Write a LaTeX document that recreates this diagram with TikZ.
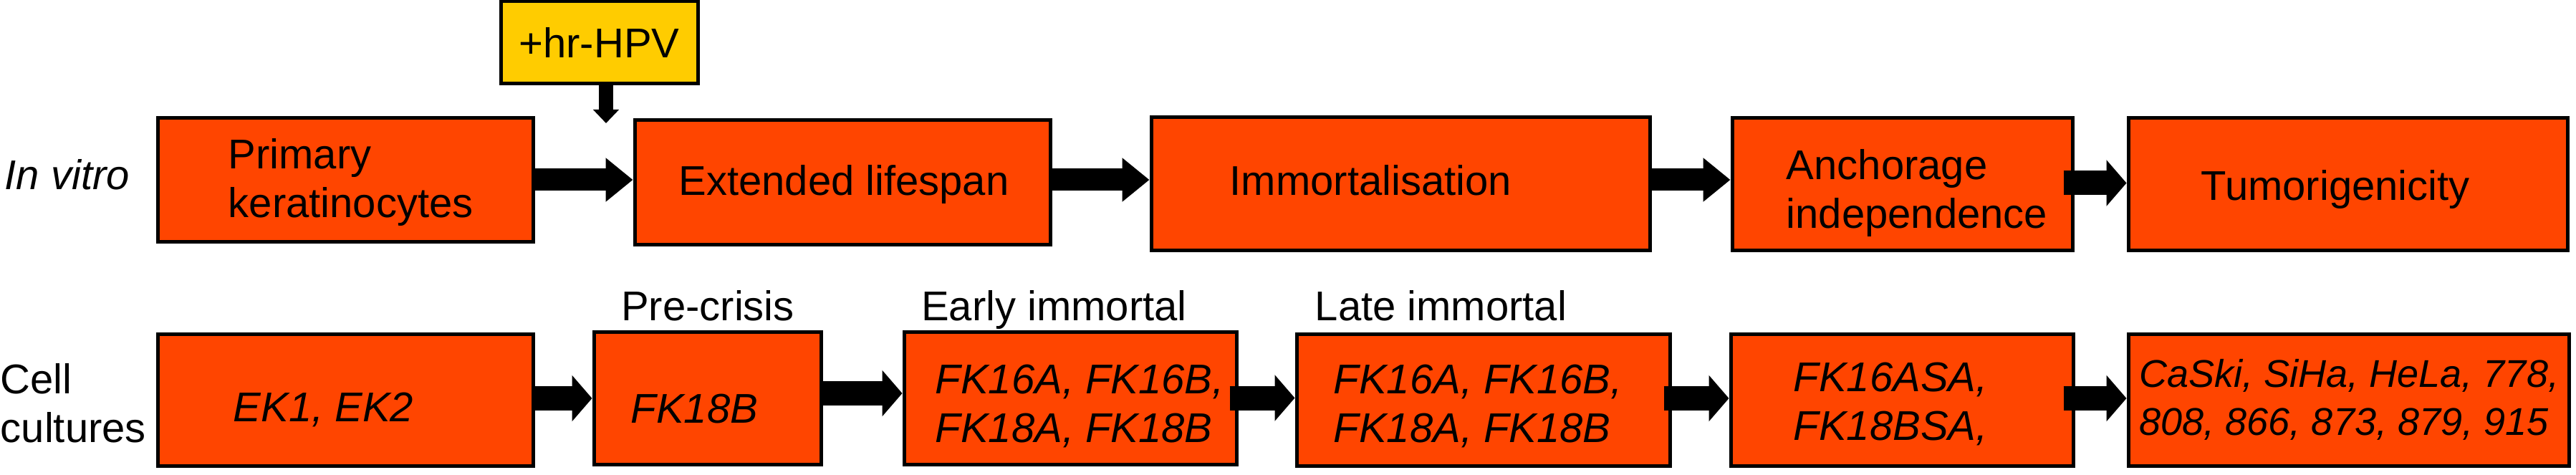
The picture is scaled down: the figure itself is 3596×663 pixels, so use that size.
\documentclass[tikz,border=0pt]{standalone}
\usepackage{fontspec}
\setmainfont{Liberation Sans}
\usetikzlibrary{arrows.meta}
\definecolor{boxorange}{HTML}{FF4500}
\definecolor{boxyellow}{HTML}{FFCC00}
\begin{document}
\begin{tikzpicture}[x=0.25pt,y=-0.25pt,
  box/.style={draw=black, line width=1.25pt, fill=boxorange, inner sep=0pt},
  ybox/.style={draw=black, line width=1.25pt, fill=boxyellow, inner sep=0pt, font=\fontsize{14.5}{17}\selectfont},
  lbl/.style={inner sep=0pt, font=\fontsize{14.5}{17}\selectfont},
  ilbl/.style={inner sep=0pt, font=\fontsize{14.5}{17}\selectfont\itshape},
  toparr/.style={line width=7.75pt, -{Triangle[length=9.5pt,width=14.75pt]}},
  botarr/.style={line width=8.5pt, -{Triangle[length=7pt,width=15.75pt]}},
  hpvarr/.style={line width=5pt, -{Triangle[length=4.75pt,width=8.75pt]}}
]
\useasboundingbox (0,0) rectangle (3596,663);

% top row boxes
\node[box, minimum width=131pt, minimum height=43pt] (prim) at (482,251) {};
\node[box, minimum width=145pt, minimum height=43.25pt] (ext) at (1176,254.5) {};
\node[box, minimum width=174pt, minimum height=46.25pt] (imm) at (1955,256.5) {};
\node[box, minimum width=118.75pt, minimum height=46pt] (anch) at (2655.5,257) {};
\node[box, minimum width=153.25pt, minimum height=46pt] (tum) at (3277.5,257) {};
\node[ybox, minimum width=68.75pt, minimum height=28.75pt] (hpv) at (836.5,59.5) {+hr-HPV};

% top row texts
\node[ilbl, anchor=base west] (invitro) at (6,265) {In vitro};
\node[lbl, anchor=west, align=left] (primT) at (318,255) {Primary\\keratinocytes};
\node[lbl, anchor=base] (extT) at (1178,272) {Extended lifespan};
\node[lbl, anchor=base west] (immT) at (1716,272) {Immortalisation};
\node[lbl, anchor=west, align=left] (anchT) at (2493,270) {Anchorage\\independence};
\node[lbl, anchor=base west] (tumT) at (3072,280) {Tumorigenicity};

% bottom row boxes
\node[box, minimum width=131pt, minimum height=46pt] (ek) at (482,558) {};
\node[box, minimum width=79.25pt, minimum height=46.25pt] (fk) at (987.5,555.5) {};
\node[box, minimum width=116pt, minimum height=46.25pt] (early) at (1494,555.5) {};
\node[box, minimum width=130.25pt, minimum height=46pt] (late) at (2070.5,558) {};
\node[box, minimum width=119.5pt, minimum height=46pt] (sa) at (2655,558) {};
\node[box, minimum width=153.75pt, minimum height=46pt] (lines) at (3278.5,558) {};

% bottom row texts
\node[lbl, anchor=west, align=left] (cell) at (0,563) {Cell\\cultures};
\node[lbl, anchor=base] (preH) at (988,447) {Pre-crisis};
\node[lbl, anchor=base] (earlyH) at (1471.5,447) {Early immortal};
\node[lbl, anchor=base] (lateH) at (2011.5,447) {Late immortal};
\node[ilbl, anchor=base west] (ekT) at (325,588) {EK1, EK2};
\node[ilbl, anchor=base west] (fkT) at (880,590) {FK18B};
\node[ilbl, anchor=west, align=left] (earlyT) at (1305,567) {FK16A, FK16B,\\FK18A, FK18B};
\node[ilbl, anchor=west, align=left] (lateT) at (1861,567) {FK16A, FK16B,\\FK18A, FK18B};
\node[ilbl, anchor=west, align=left] (saT) at (2503,563.5) {FK16ASA,\\FK18BSA,};
\node[inner sep=0pt, font=\fontsize{13.5}{16.75}\selectfont\itshape, anchor=west, align=left] (linesT) at (2986,558) {CaSki, SiHa, HeLa, 778,\\808, 866, 873, 879, 915};

% arrows top
\coordinate (hpvtip) at (846,172);
\draw[hpvarr] (hpv.south -| hpvtip) -- (hpvtip);
\draw[toparr] (prim.east) -- (prim.east -| ext.west);
\coordinate (a2) at ([yshift=0.875pt]ext.east);
\draw[toparr] (a2) -- (a2 -| imm.west);
\coordinate (a3) at ([yshift=1.375pt]imm.east);
\draw[toparr] (a3) -- (a3 -| anch.west);
\coordinate (a4) at ([xshift=-3.75pt,yshift=0.375pt]anch.east);
\draw[botarr] (a4) -- (a4 -| tum.west);

% arrows bottom
\coordinate (b1) at ([yshift=0.5pt]ek.east);
\draw[botarr] (b1) -- (b1 -| fk.west);
\coordinate (b2) at ([yshift=1.625pt]fk.east);
\draw[botarr] (b2) -- (b2 -| early.west);
\coordinate (b3) at ([xshift=-3pt]early.east);
\draw[botarr] (b3) -- (b3 -| late.west);
\coordinate (b4) at ([xshift=-2.75pt,yshift=0.5pt]late.east);
\draw[botarr] (b4) -- (b4 -| sa.west);
\coordinate (b5) at ([xshift=-4pt,yshift=0.5pt]sa.east);
\draw[botarr] (b5) -- (b5 -| lines.west);
\end{tikzpicture}
\end{document}
